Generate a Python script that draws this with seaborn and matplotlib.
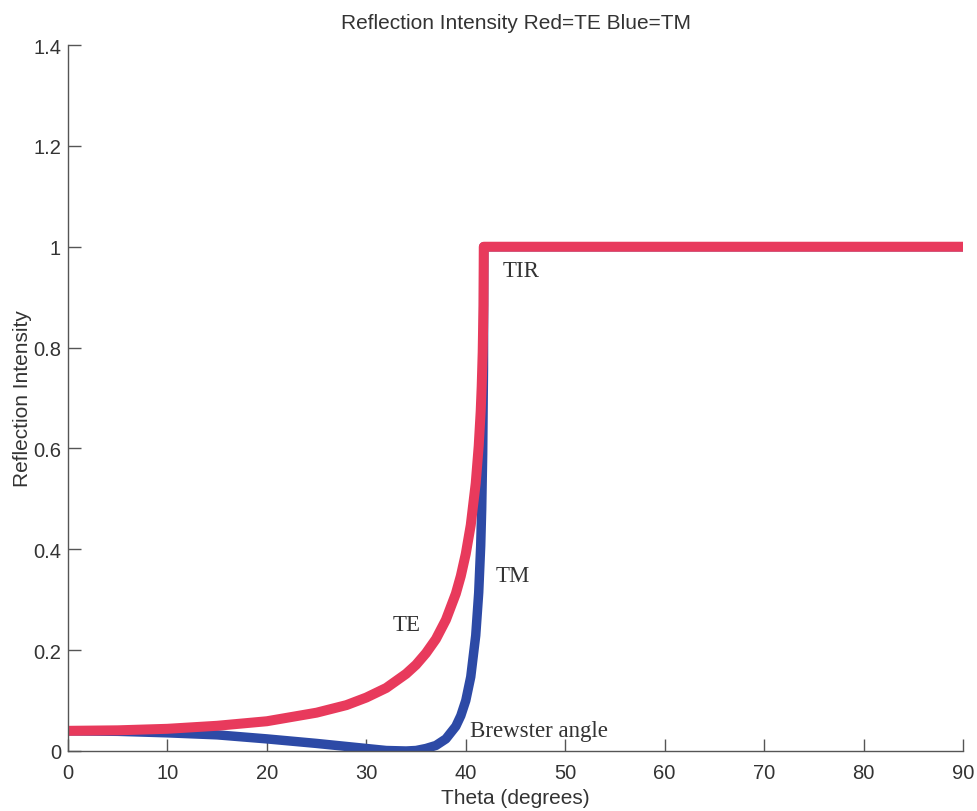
import matplotlib
matplotlib.use("Agg")
import matplotlib.pyplot as plt
import seaborn as sns
import pandas as pd

# Angle of incidence (degrees)
theta = [0, 5, 10, 15, 20, 25, 28, 30, 32, 34, 35, 36, 37, 38, 39, 39.5, 40,
         40.5, 41, 41.3, 41.5, 41.6, 41.7, 41.78, 41.81, 50, 60, 70, 80, 90]
# Reflection intensity, TE (red)
te = [0.040, 0.041, 0.044, 0.050, 0.059, 0.076, 0.091, 0.106, 0.125, 0.153,
      0.171, 0.194, 0.222, 0.260, 0.312, 0.347, 0.391, 0.448, 0.531, 0.605,
      0.674, 0.723, 0.791, 0.884, 1.0, 1.0, 1.0, 1.0, 1.0, 1.0]
# Reflection intensity, TM (blue)
tm = [0.040, 0.039, 0.036, 0.032, 0.024, 0.015, 0.009, 0.005, 0.001, 0.000,
      0.001, 0.005, 0.011, 0.024, 0.049, 0.070, 0.100, 0.147, 0.229, 0.314,
      0.407, 0.480, 0.589, 0.758, 1.0, 1.0, 1.0, 1.0, 1.0, 1.0]

x_ticks = [0, 10, 20, 30, 40, 50, 60, 70, 80, 90]
y_ticks = [0, 0.2, 0.4, 0.6, 0.8, 1.0, 1.2, 1.4]
y_tick_labels = ["0", "0.2", "0.4", "0.6", "0.8", "1", "1.2", "1.4"]

sns.set_style("ticks")
plt.rcParams["font.family"] = ["Liberation Sans", "DejaVu Sans"]

df = pd.DataFrame({"theta": theta, "TE": te, "TM": tm})

fig = plt.figure(figsize=(9.78, 8.12), dpi=100)
ax = fig.add_axes([0.0695, 0.0739, 0.9152, 0.8694])

sns.lineplot(data=df, x="theta", y="TM", ax=ax, color="#2d4aa6", linewidth=6.8,
             solid_capstyle="butt", solid_joinstyle="round")
sns.lineplot(data=df, x="theta", y="TE", ax=ax, color="#e83a5c", linewidth=7.2,
             solid_capstyle="butt", solid_joinstyle="round")

ax.set_xlim(0, 90)
ax.set_ylim(0, 1.4)
ax.set_xticks(x_ticks)
ax.set_xticklabels([str(t) for t in x_ticks])
ax.set_yticks(y_ticks)
ax.set_yticklabels(y_tick_labels)

for s in ["top", "right"]:
    ax.spines[s].set_visible(False)
for s in ["left", "bottom"]:
    ax.spines[s].set_color("#555555")
    ax.spines[s].set_linewidth(1.0)

ax.tick_params(direction="in", length=9, width=1.0, color="#555555",
               labelsize=14.5, labelcolor="#333333")
ax.tick_params(axis="x", pad=9)
ax.tick_params(axis="y", pad=5)

ax.set_xlabel("Theta (degrees)", fontsize=15, color="#333333", labelpad=4)
ax.set_ylabel("Reflection Intensity", fontsize=15, color="#333333", labelpad=0.5)
ax.set_title("Reflection Intensity Red=TE Blue=TM", fontsize=15, color="#333333", pad=12.5)

serif = ["Liberation Serif", "DejaVu Serif"]
ax.text(43.7, 0.952, "TIR", family=serif, fontsize=16.5, color="#333333", va="center")
ax.text(43.0, 0.349, "TM", family=serif, fontsize=16.5, color="#333333", va="center")
ax.text(32.6, 0.25, "TE", family=serif, fontsize=16.5, color="#333333", va="center")
ax.text(40.4, 0.04, "Brewster angle", family=serif, fontsize=16.5, color="#333333", va="center")

fig.savefig("out.png", dpi=100)
